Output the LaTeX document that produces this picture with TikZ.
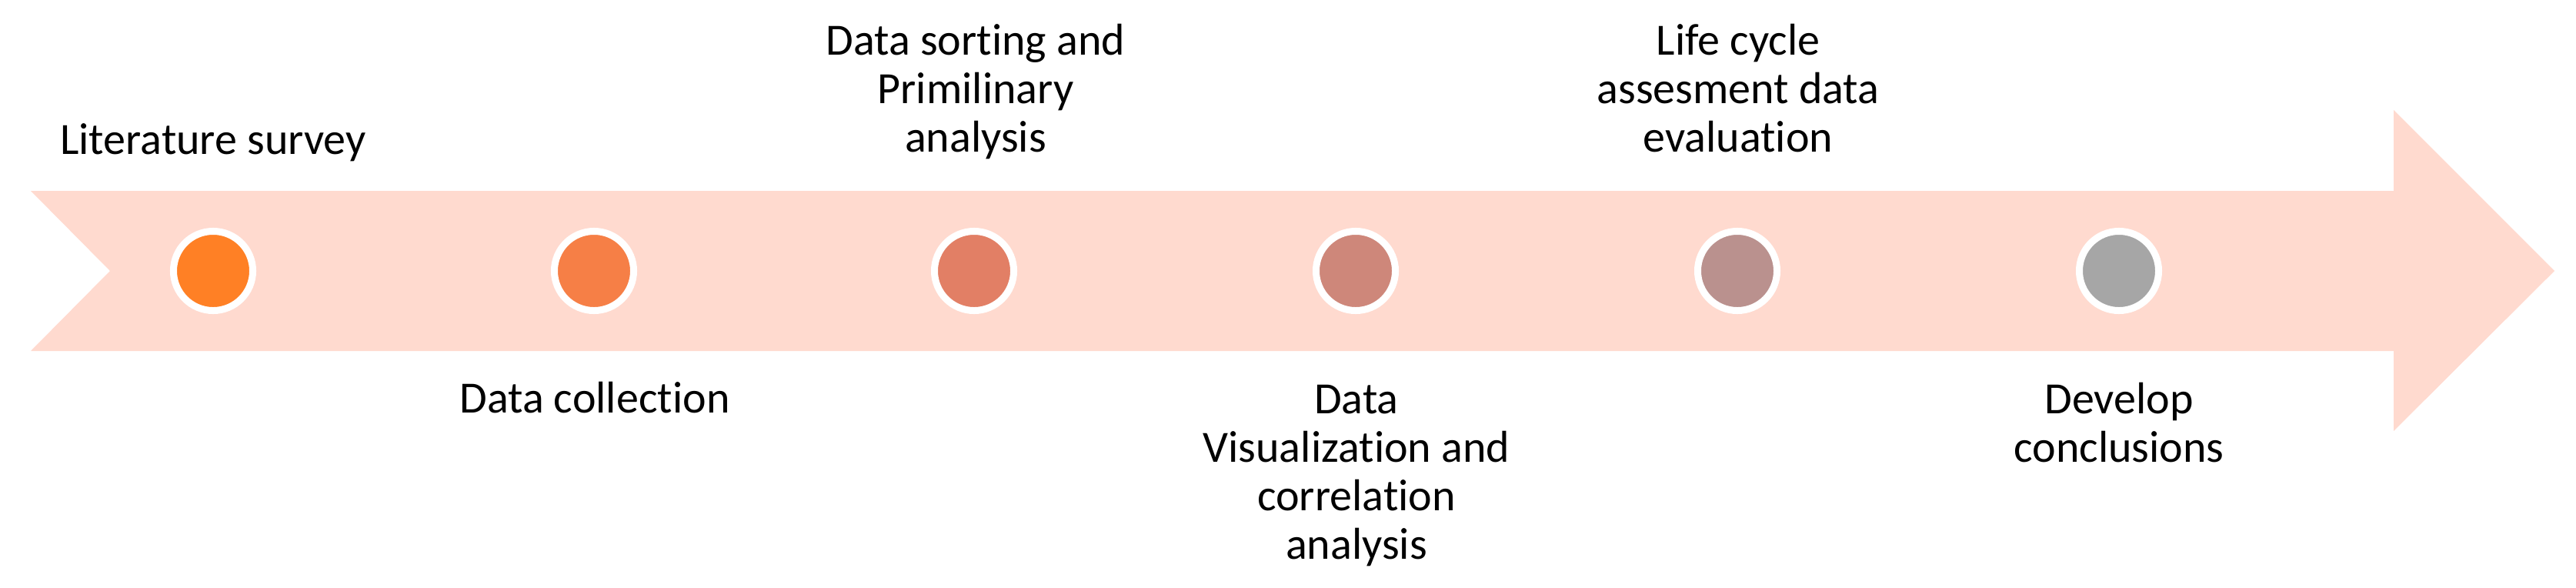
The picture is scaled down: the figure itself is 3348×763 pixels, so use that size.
\documentclass[tikz,border=0pt]{standalone}
\usepackage{fontspec}
\setmainfont{Carlito}[Ligatures=NoCommon]
\definecolor{band}{HTML}{FFDACF}
\definecolor{cA}{HTML}{FF8025}
\definecolor{cB}{HTML}{F67F46}
\definecolor{cC}{HTML}{E27F65}
\definecolor{cD}{HTML}{CE877A}
\definecolor{cE}{HTML}{BA918E}
\definecolor{cF}{HTML}{A6A6A6}
\tikzset{
  dot/.style={circle, draw=white, line width=0.09cm, minimum size=1.03cm, inner sep=0pt},
  lbl/.style={anchor=base, align=center, inner sep=0pt, font=\fontsize{16.5}{17.9}\selectfont}
}
\begin{document}
\begin{tikzpicture}[x=0.01cm, y=-0.01cm]
\useasboundingbox (0,0) rectangle (3348,763);
\fill[band] (40,248) -- (3111,248) -- (3111,143) -- (3320,352) -- (3111,560) -- (3111,456) -- (40,456) -- (143,352) -- cycle;
\node[dot, fill=cA] (c1) at (277,352) {};
\node[dot, fill=cB] (c2) at (772,352) {};
\node[dot, fill=cC] (c3) at (1266,352) {};
\node[dot, fill=cD] (c4) at (1762,352) {};
\node[dot, fill=cE] (c5) at (2258,352) {};
\node[dot, fill=cF] (c6) at (2754,352) {};
\node[lbl] (t1) at (277,200) {Literature survey};
\node[lbl] (t2) at (773,536) {Data collection};
\node[lbl] (t3) at (1268,197) {Data sorting and\\Primilinary\\analysis};
\node[lbl] (t4) at (1763,726) {Data\\Visualization and\\correlation\\analysis};
\node[lbl] (t5) at (2259,197) {Life cycle\\assesment data\\evaluation};
\node[lbl] (t6) at (2754,600) {Develop\\conclusions};
\end{tikzpicture}
\end{document}
